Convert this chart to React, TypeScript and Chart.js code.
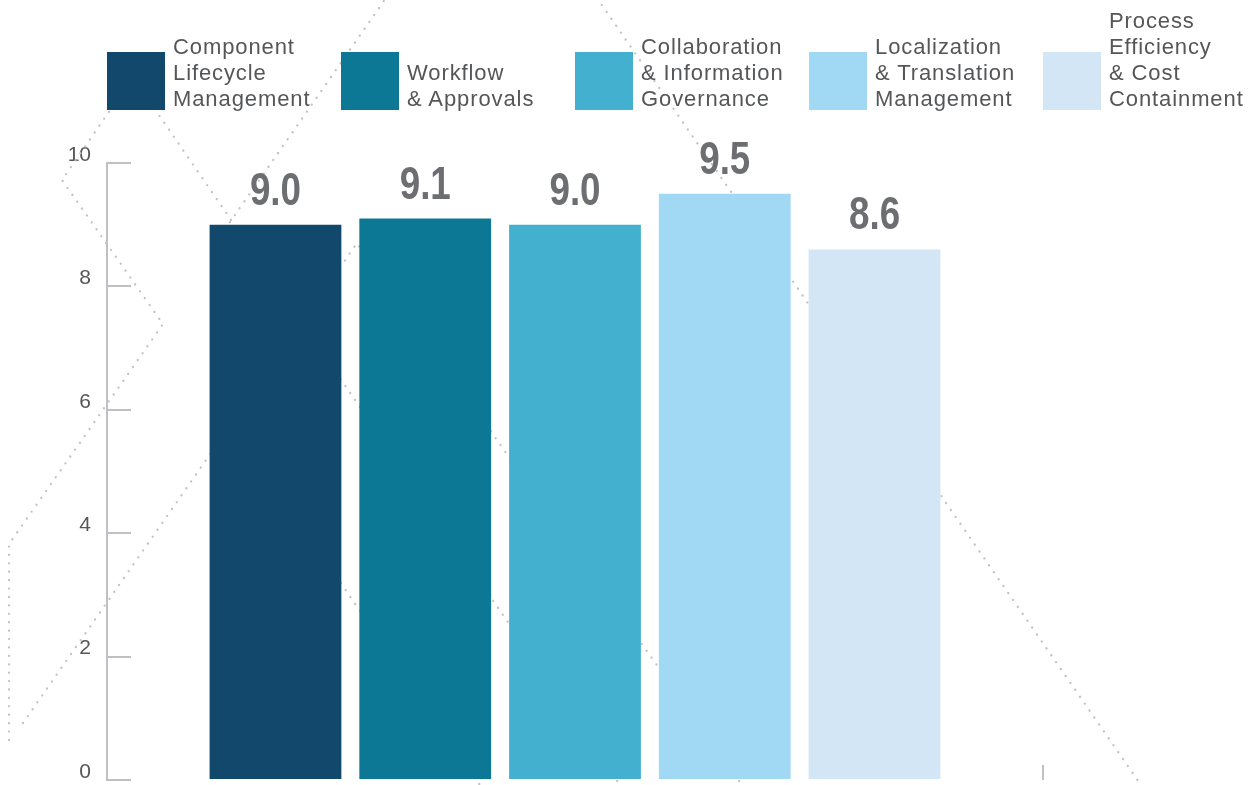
import React, { useEffect, useRef } from 'react';
import { Chart, registerables } from 'chart.js';

Chart.register(...registerables);

// ---- data ----
const categoryLines: string[][] = [
  ['Component', 'Lifecycle', 'Management'],
  ['Workflow', '& Approvals'],
  ['Collaboration', '& Information', 'Governance'],
  ['Localization', '& Translation', 'Management'],
  ['Process', 'Efficiency', '& Cost', 'Containment'],
];
const scores: number[] = [9.0, 9.1, 9.0, 9.5, 8.6];
const barColors: string[] = ['#13486d', '#0c7895', '#43b0cf', '#a1d8f3', '#d2e6f6'];
const yTickValues: number[] = [0, 2, 4, 6, 8, 10];

// ---- decoration (background dotted zig-zag lines, in page pixels of a 1254x785 frame) ----
const DECOR_W = 1254;
const DECOR_H = 785;
const decorPaths: number[][][] = [
  [[128, 84], [62, 180], [163, 324], [9, 544], [9, 746]],
  [[150, 102], [620, 785]],
  [[230, 222], [386, -2]],
  [[23, 723], [357, 243], [742, 785]],
  [[231, 424], [480, 785]],
  [[597, -2], [1141, 785]],
];

const AXIS_GREY = '#c0c0c4';
const TEXT_GREY = '#555658';
const SANS = '"Liberation Sans", Arial, Helvetica, sans-serif';

const decorPlugin = {
  id: 'decorDots',
  beforeDatasetsDraw(chart: any) {
    const { ctx, width, height } = chart;
    const sx = width / DECOR_W;
    const sy = height / DECOR_H;
    ctx.save();
    ctx.strokeStyle = '#c2c2c4';
    ctx.lineWidth = 2.3;
    ctx.lineCap = 'round';
    ctx.setLineDash([0.01, 8.4]);
    decorPaths.forEach((path) => {
      ctx.beginPath();
      path.forEach(([x, y], i) => {
        if (i === 0) ctx.moveTo(x * sx, y * sy);
        else ctx.lineTo(x * sx, y * sy);
      });
      ctx.stroke();
    });
    ctx.restore();
  },
};

const valueLabelPlugin = {
  id: 'valueLabels',
  afterDatasetsDraw(chart: any) {
    const { ctx } = chart;
    chart.data.datasets.forEach((ds: any, i: number) => {
      const meta = chart.getDatasetMeta(i);
      const bar = meta.data[0];
      if (!bar) return;
      const v = ds.data[0] as number;
      ctx.save();
      ctx.fillStyle = '#6d6e72';
      ctx.font = `bold 46px ${SANS}`;
      ctx.textAlign = 'center';
      ctx.textBaseline = 'alphabetic';
      ctx.translate(bar.x, bar.y - 20);
      ctx.scale(0.8, 1);
      ctx.fillText(v.toFixed(1), 0, 0);
      ctx.restore();
    });
  },
};

export default function App() {
  const canvasRef = useRef<HTMLCanvasElement | null>(null);

  useEffect(() => {
    if (!canvasRef.current) return;
    const chart = new Chart(canvasRef.current, {
      type: 'bar',
      data: {
        labels: [''],
        datasets: categoryLines.map((lines, i) => ({
          label: lines.join(' '),
          data: [scores[i]],
          backgroundColor: barColors[i],
          borderWidth: 0,
          barPercentage: 0.88,
          categoryPercentage: 0.8,
        })),
      },
      options: {
        responsive: true,
        maintainAspectRatio: false,
        animation: false,
        layout: { padding: { top: 163, right: 211, bottom: 5, left: 0 } },
        plugins: {
          legend: { display: false },
          tooltip: { enabled: false },
          title: { display: false },
        },
        scales: {
          x: {
            offset: true,
            ticks: { display: false },
            grid: {
              display: true,
              offset: true,
              drawOnChartArea: true,
              drawTicks: false,
              color: AXIS_GREY,
              lineWidth: 2,
            },
            border: { display: false, dash: [0, 602, 15, 3000] },
            afterFit: (s: any) => {
              s.height = 0;
              s.paddingLeft = 0;
              s.paddingRight = 0;
            },
          },
          y: {
            min: yTickValues[0],
            max: yTickValues[yTickValues.length - 1],
            afterBuildTicks: (s: any) => {
              s.ticks = yTickValues.map((v) => ({ value: v }));
            },
            ticks: {
              padding: 16,
              labelOffset: -8,
              color: TEXT_GREY,
              font: { family: SANS, size: 21 },
              callback: (v: any) => String(v),
            },
            grid: { drawTicks: false, color: AXIS_GREY, lineWidth: 2 },
            border: { display: true, color: AXIS_GREY, width: 2, dash: [23, 3000] },
            afterFit: (s: any) => {
              s.width = 107;
              s.paddingTop = 0;
              s.paddingBottom = 0;
            },
          },
        },
      } as any,
      plugins: [decorPlugin, valueLabelPlugin],
    });
    return () => chart.destroy();
  }, []);

  return (
    <div
      style={{
        position: 'fixed',
        left: 0,
        top: 0,
        width: 1254,
        height: 785,
        background: '#ffffff',
        overflow: 'hidden',
      }}
    >
      <div style={{ position: 'absolute', left: 0, top: 0, width: 1254, height: 785 }}>
        <canvas ref={canvasRef} />
      </div>
      {categoryLines.map((lines, i) => (
        <div
          key={i}
          style={{
            position: 'absolute',
            left: 107 + 234 * i,
            top: 0,
            height: 110,
            display: 'flex',
            alignItems: 'flex-end',
          }}
        >
          <div style={{ width: 58, height: 58, background: barColors[i], flex: 'none' }} />
          <div
            style={{
              marginLeft: 8,
              marginBottom: -1.5,
              fontFamily: SANS,
              fontSize: 22,
              lineHeight: '26px',
              letterSpacing: '0.9px',
              color: TEXT_GREY,
              whiteSpace: 'nowrap',
            }}
          >
            {lines.map((ln, j) => (
              <div key={j}>{ln}</div>
            ))}
          </div>
        </div>
      ))}
    </div>
  );
}
